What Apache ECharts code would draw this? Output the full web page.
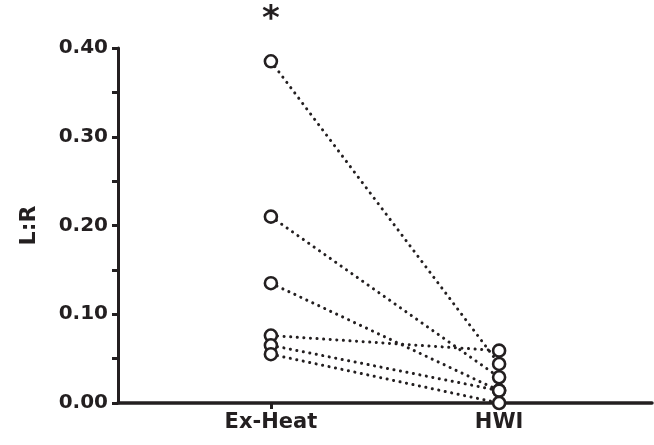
<!DOCTYPE html>
<html>
<head>
<meta charset="utf-8">
<script src="https://cdn.jsdelivr.net/npm/echarts@6/dist/echarts.min.js"></script>
<style>html,body{margin:0;padding:0;background:#fff;}#c{width:654px;height:445px;}</style>
</head>
<body>
<div id="c"></div>
<script>
var categories = ['Ex-Heat', 'HWI'];
var exHeat = [0.385, 0.210, 0.135, 0.076, 0.065, 0.055];
var hwi = [0.044, 0.029, 0.014, 0.059, 0.014, 0.000];
var yTicks = [0, 0.1, 0.2, 0.3, 0.4];
var yName = 'L:R';
var sigMark = '*';

var font = 'DejaVu Sans';
var ink = '#231f20';

var series = [];
exHeat.forEach(function (v, i) {
  series.push({
    type: 'line',
    data: [[0, v], [1, hwi[i]]],
    showSymbol: false,
    silent: true,
    lineStyle: { color: ink, width: 3, type: [0.1, 6.5], cap: 'round' },
    z: 2
  });
});
var pts = [];
exHeat.forEach(function (v) { pts.push([0, v]); });
hwi.forEach(function (v) { pts.push([1, v]); });
series.push({
  type: 'scatter',
  data: pts,
  symbol: 'circle',
  symbolSize: 12,
  itemStyle: { color: '#fff', borderColor: ink, borderWidth: 2.6, opacity: 1 },
  z: 5
});

var chart = echarts.init(document.getElementById('c'), null, { renderer: 'canvas' });
chart.setOption({
  animation: false,
  backgroundColor: '#fff',
  grid: { left: 118, right: 2, top: 48, bottom: 42, containLabel: false },
  xAxis: {
    type: 'value',
    min: -0.67,
    max: 1.67,
    splitLine: { show: false },
    axisLine: { show: true, onZero: false, lineStyle: { color: ink, width: 3.5 } },
    axisTick: { show: true, customValues: [0, 1], length: 6, lineStyle: { color: ink, width: 3 } },
    axisLabel: {
      customValues: [0, 1],
      formatter: function (v) { return categories[Math.round(v)]; },
      color: ink, fontFamily: font, fontWeight: 'bold', fontSize: 21, margin: 9
    }
  },
  yAxis: {
    type: 'value',
    min: 0,
    max: 0.4,
    interval: 0.1,
    name: yName,
    nameLocation: 'middle',
    nameGap: 78,
    nameTextStyle: { color: ink, fontFamily: font, fontWeight: 'bold', fontSize: 22 },
    splitLine: { show: false },
    axisLine: { show: true, onZero: false, lineStyle: { color: ink, width: 3 } },
    axisTick: { show: true, length: 6, lineStyle: { color: ink, width: 3 } },
    minorTick: { show: true, splitNumber: 2, length: 6, lineStyle: { color: ink, width: 3 } },
    axisLabel: {
      formatter: function (v) { return v.toFixed(2); },
      color: ink, fontFamily: font, fontWeight: 'bold', fontSize: 20, margin: 10,
      customValues: yTicks
    }
  },
  series: series
});
var starX = chart.convertToPixel({ gridIndex: 0 }, [0, 0])[0];
chart.setOption({
  graphic: [{
    type: 'text',
    x: starX,
    y: 20,
    style: { text: sigMark, fill: ink, font: 'bold 34px ' + font, textAlign: 'center', textVerticalAlign: 'middle' }
  }]
});
</script>
</body>
</html>
